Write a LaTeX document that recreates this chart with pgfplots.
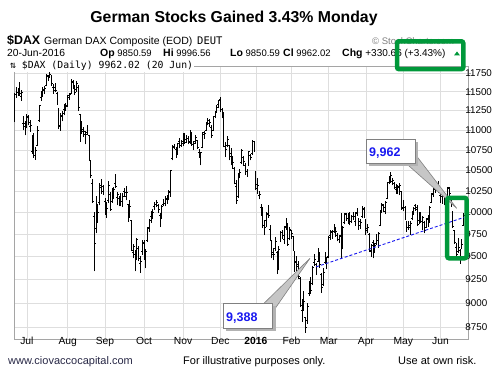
\documentclass[border=0pt]{standalone}
\usepackage{fontspec}
\setmainfont{Liberation Sans}
\newfontfamily\dejamono{DejaVu Sans Mono}
\usepackage{pgfplots}
\pgfplotsset{compat=1.18}
\usepackage{pgfplotstable}
\definecolor{boxgreen}{RGB}{0,152,58}
\definecolor{gridgray}{RGB}{222,222,222}
\definecolor{framegray}{RGB}{165,165,165}
\definecolor{callblue}{RGB}{25,25,240}
\definecolor{footgray}{RGB}{40,40,70}

\pgfplotstableread{
x o h l c
-7 11109 11483 11101 11460
-6 11462 11563 11420 11471
-5 11490 11548 11440 11472
-4 11457 11635 11445 11473
-3 11440 11527 11380 11492
-2 11083 11181 10996 11084
-1 11040 11112 10933 10945
0 11040 11200 11020 11180
1 11160 11190 11060 11099
2 11050 11130 10980 11058
3 10730 10935 10703 10890
4 10950 10962 10650 10676
5 10680 10790 10630 10747
6 10810 11050 10800 10997
7 11120 11330 11100 11315
8 11420 11510 11380 11484
9 11450 11560 11430 11517
10 11530 11580 11470 11539
11 11580 11740 11570 11716
12 11700 11720 11640 11673
13 11720 11802 11690 11735
14 11700 11720 11580 11604
15 11560 11600 11470 11520
16 11560 11610 11490 11512
17 11470 11500 11330 11347
18 11260 11290 11010 11056
19 11050 11220 10990 11174
20 11190 11250 11110 11212
21 11260 11340 11190 11257
22 11290 11350 11250 11309
23 11320 11460 11300 11443
24 11420 11480 11390 11456
25 11480 11670 11470 11636
26 11620 11660 11540 11585
27 11560 11590 11460 11490
28 11530 11640 11500 11604
29 11560 11590 11250 11293
30 11200 11210 10850 10924
31 11040 11110 10950 10985
32 11010 11040 10910 10985
33 10940 10990 10820 10940
34 10970 11060 10940 11015
35 10930 10940 10610 10655
36 10610 10620 10400 10432
37 10340 10390 10110 10124
38 9950 10000 9338 9648
39 9810 10190 9760 10128
40 10060 10100 9880 9997
41 10110 10340 10080 10315
42 10290 10390 10220 10298
43 10240 10320 10200 10259
44 10130 10170 9970 10016
45 10010 10120 9940 10048
46 10140 10370 10110 10318
47 10210 10240 10020 10038
48 10130 10290 10110 10271
49 10250 10300 10160 10271
50 10340 10460 10280 10303
51 10170 10240 10080 10210
52 10160 10190 10070 10123
53 10130 10230 10070 10131
54 10100 10230 10060 10188
55 10240 10280 10180 10227
56 10180 10310 10140 10229
57 10090 10100 9890 9916
58 9960 10140 9940 10066
59 9900 9910 9560 9570
60 9540 9640 9480 9612
61 9520 9570 9340 9427
62 9480 9710 9460 9688
63 9590 9620 9450 9483
64 9420 9510 9325 9450
65 9560 9690 9520 9660
66 9650 9680 9460 9509
67 9480 9580 9370 9553
68 9680 9830 9660 9814
69 9820 9920 9780 9902
70 9950 10020 9880 9970
71 9960 10040 9920 9993
72 10070 10120 10030 10096
73 10090 10140 10060 10119
74 10080 10100 9990 10033
75 9960 9990 9830 9915
76 9940 10080 9920 10064
77 10090 10150 10070 10104
78 10100 10190 10070 10164
79 10150 10200 10100 10147
80 10170 10260 10140 10238
81 10240 10500 10180 10491
82 10640 10810 10620 10795
83 10780 10830 10760 10801
84 10760 10790 10650 10692
85 10700 10840 10690 10831
86 10860 10900 10770 10800
87 10800 10880 10790 10850
88 10830 10960 10800 10951
89 10920 10960 10830 10846
90 10880 10940 10840 10887
91 10890 10920 10820 10845
92 10850 11000 10830 10988
93 10950 10970 10800 10815
94 10800 10860 10750 10833
95 10860 10940 10830 10907
96 10870 10880 10760 10783
97 10720 10760 10650 10708
98 10580 10730 10560 10713
99 10780 10980 10770 10971
100 10940 10990 10890 10960
101 11000 11100 10990 11085
102 11100 11150 11060 11119
103 11080 11140 11040 11092
104 11030 11060 10900 10934
105 11000 11180 10990 11170
106 11180 11250 11150 11226
107 11250 11330 11220 11293
108 11330 11390 11280 11382
109 11390 11430 11230 11261
110 11260 11280 11150 11190
111 11180 11230 10780 10789
112 10790 10850 10660 10752
113 10810 10920 10780 10886
114 10800 10810 10620 10673
115 10700 10770 10560 10593
116 10570 10680 10520 10598
117 10520 10540 10330 10340
118 10300 10380 10100 10140
119 10180 10470 10170 10450
120 10460 10520 10400 10469
121 10600 10760 10580 10739
122 10650 10680 10550 10608
123 10560 10590 10440 10497
124 10480 10510 10420 10489
125 10560 10740 10550 10727
126 10680 10700 10620 10653
127 10700 10880 10690 10860
128 10850 10860 10730 10743
129 10480 10490 10260 10283
130 10330 10400 10220 10310
131 10200 10250 10150 10214
132 10050 10100 9960 9979
133 10040 10060 9820 9849
134 9850 9910 9740 9825
135 9900 10000 9830 9985
136 9980 10090 9940 9960
137 9800 9850 9670 9794
138 9660 9690 9480 9545
139 9520 9600 9460 9521
140 9590 9720 9560 9665
141 9550 9560 9310 9391
142 9400 9620 9350 9574
143 9700 9790 9660 9764
144 9770 9800 9700 9736
145 9690 9840 9640 9822
146 9840 9930 9800 9881
147 9860 9880 9620 9639
148 9700 9830 9680 9798
149 9790 9800 9700 9757
150 9720 9730 9560 9582
151 9530 9560 9330 9434
152 9450 9510 9340 9393
153 9410 9450 9260 9286
154 9260 9280 8960 8979
155 8920 9050 8810 8879
156 8940 9130 8920 9017
157 8850 8860 8699 8752
158 8820 9000 8790 8967
159 9100 9230 9080 9206
160 9220 9280 9100 9135
161 9210 9400 9190 9377
162 9440 9530 9400 9463
163 9410 9430 9300 9388
164 9450 9600 9440 9573
165 9530 9550 9380 9416
166 9310 9320 9110 9167
167 9200 9370 9180 9331
168 9440 9550 9420 9513
169 9440 9500 9360 9495
170 9500 9730 9480 9717
171 9730 9800 9690 9777
172 9770 9800 9700 9751
173 9780 9860 9760 9824
174 9790 9830 9720 9778
175 9740 9760 9670 9693
176 9690 9740 9650 9723
177 9740 9990 9490 9498
178 9590 9840 9580 9831
179 9880 9990 9860 9990
180 9970 9990 9900 9933
181 9930 9990 9870 9983
182 9960 10000 9850 9893
183 9920 9970 9880 9950
184 9950 10000 9910 9948
185 9890 10000 9840 9990
186 10000 10050 9960 10022
187 9920 9930 9800 9851
188 9890 9920 9810 9887
189 9950 10070 9940 10046
190 10030 10060 9940 9966
191 9900 9920 9740 9795
192 9810 9860 9760 9822
193 9750 9760 9550 9563
194 9560 9640 9500 9624
195 9660 9680 9480 9530
196 9560 9650 9540 9622
197 9650 9750 9630 9682
198 9680 9770 9600 9761
199 9850 10030 9840 10026
200 10020 10110 9990 10094
201 10080 10100 10000 10051
202 10010 10130 9980 10120
203 10160 10360 10150 10350
204 10350 10430 10330 10421
205 10420 10474 10350 10435
206 10360 10400 10320 10374
207 10340 10360 10270 10294
208 10270 10330 10220 10260
209 10280 10320 10210 10300
210 10290 10340 10200 10321
211 10240 10250 10030 10039
212 10050 10140 10020 10123
213 10060 10070 9910 9926
214 9880 9900 9780 9828
215 9820 9900 9800 9851
216 9830 9900 9740 9870
217 9930 10010 9910 9980
218 10000 10060 9970 10045
219 10080 10100 10020 10035
220 10050 10080 9840 9862
221 9900 10000 9860 9952
222 9960 10000 9880 9891
223 9870 9960 9800 9943
224 9880 9900 9760 9795
225 9830 9940 9820 9916
226 9930 9970 9830 9842
227 9890 10070 9880 10057
228 10120 10230 10110 10205
229 10220 10290 10180 10272
230 10270 10300 10230 10286
231 10300 10360 10290 10333
232 10320 10370 10230 10263
233 10200 10230 10110 10205
234 10180 10230 10100 10208
235 10210 10240 10080 10103
236 10140 10180 10060 10121
237 10160 10300 10150 10288
238 10280 10300 10190 10217
239 10150 10170 10060 10088
240 10000 10020 9820 9834
241 9790 9800 9640 9657
242 9600 9650 9490 9519
243 9560 9710 9540 9606
244 9570 9580 9420 9550
245 9600 9700 9580 9631
246 9850.59 9996.56 9850.59 9962.02
}\dax

\pgfplotstableread{
x v
163 9388
246 9940
}\trend

\begin{document}
\begin{tikzpicture}[x=1pt,y=1pt]
\useasboundingbox (0,0) rectangle (496,379);
\fill[white] (0,0) rectangle (496,379);

\begin{axis}[
  at={(8,46)}, anchor=south west, scale only axis,
  width=454pt, height=273pt,
  xmin=-7.15, xmax=248.6,
  % log-scaled price axis: values plotted as ln(price)
  ymin=9.06323, ymax=9.37949,
  axis line style={draw=framegray, line width=0.8pt},
  xtick={0,23,44,66,88,109,129,149,170,191,212,233},
  xticklabels={Jul,Aug,Sep,Oct,Nov,Dec,\textbf{2016},Feb,Mar,Apr,May,Jun},
  xtick style={draw=none},
  xticklabel style={font=\fontsize{10.3}{11}\selectfont, anchor=base, inner sep=0pt, yshift=-2.3pt},
  ytick={9.07681,9.10498,9.13238,9.15904,9.18502,9.21034,9.23503,9.25913,9.28266,9.30565,9.32812,9.35010,9.37161},
  yticklabels={8750,9000,9250,9500,9750,10000,10250,10500,10750,11000,11250,11500,11750},
  ytick pos=right, yticklabel pos=right,
  ytick style={draw=framegray, line width=0.6pt},
  major tick length=3pt, tick align=outside,
  yticklabel style={font=\fontsize{9.8}{10}\selectfont, anchor=west, inner sep=0pt, xshift=-6pt},
  grid=major, major grid style={draw=gridgray, line width=0.7pt},
]
% high-low
\addplot[draw=none, mark=none, forget plot,
  error bars/.cd, y dir=plus, y explicit, error mark=none,
  error bar style={draw=black, solid, line width=1pt}]
  table[x=x, y expr=ln(\thisrow{l}), y error expr=ln(\thisrow{h})-ln(\thisrow{l})] {\dax};
% open ticks
\addplot[draw=none, mark=none, forget plot,
  error bars/.cd, x dir=minus, x fixed=0.7, error mark=none,
  error bar style={draw=black, solid, line width=1pt}]
  table[x=x, y expr=ln(\thisrow{o})] {\dax};
% close ticks
\addplot[draw=none, mark=none, forget plot,
  error bars/.cd, x dir=plus, x fixed=0.7, error mark=none,
  error bar style={draw=black, solid, line width=1pt}]
  table[x=x, y expr=ln(\thisrow{c})] {\dax};
% trendline
\addplot[callblue, dash pattern=on 3pt off 2pt, line width=0.9pt, forget plot]
  table[x=x, y expr=ln(\thisrow{v})] {\trend};
\end{axis}

% title and header
\node[anchor=base, font=\fontsize{15.8}{17}\selectfont\bfseries] at (234,356.3) {German Stocks Gained 3.43\% Monday};
\node[anchor=base west, inner sep=0pt, font=\fontsize{12.4}{13}\selectfont\bfseries] at (7,334) {\$DAX};
\node[anchor=base west, inner sep=0pt, font=\fontsize{10.5}{12}\selectfont] at (44,334) {German DAX Composite (EOD)};
\node[anchor=base west, inner sep=0pt, font=\dejamono\fontsize{10.5}{11}\selectfont] at (197,334) {DEUT};
\node[anchor=base west, inner sep=0pt, font=\fontsize{9.5}{11}\selectfont, text=gray] at (372,334) {\textcopyright\ StockCharts.com};
\node[anchor=base west, inner sep=0pt, font=\fontsize{10.3}{12}\selectfont] at (7,322.3) {20-Jun-2016};
\node[anchor=base west, inner sep=0pt, font=\fontsize{9.5}{12}\selectfont] at (100,322.3) {{\fontsize{10.5}{12}\selectfont\bfseries Op} 9850.59};
\node[anchor=base west, inner sep=0pt, font=\fontsize{9.5}{12}\selectfont] at (163,322.3) {{\fontsize{10.5}{12}\selectfont\bfseries Hi} 9996.56};
\node[anchor=base west, inner sep=0pt, font=\fontsize{9.5}{12}\selectfont] at (230,322.3) {{\fontsize{10.5}{12}\selectfont\bfseries Lo} 9850.59};
\node[anchor=base west, inner sep=0pt, font=\fontsize{9.5}{12}\selectfont] at (283,322.3) {{\fontsize{10.5}{12}\selectfont\bfseries Cl} 9962.02};
\node[anchor=base west, inner sep=0pt, font=\fontsize{10}{12}\selectfont] at (342,322.3) {{\fontsize{10.5}{12}\selectfont\bfseries Chg} +330.66 (+3.43\%)};
\fill[boxgreen] (454,323.5) -- (460,323.5) -- (457,327.5) -- cycle;
\node[anchor=base west, inner sep=1pt, fill=white, font=\dejamono\fontsize{9.8}{10}\selectfont] at (9,310) {⇅ \$DAX (Daily) 9962.02 (20 Jun)};

% bottom footer
\node[anchor=base west, inner sep=0pt, font=\fontsize{11}{12}\selectfont, text=footgray] at (8,14) {www.ciovaccocapital.com};
\node[anchor=base west, inner sep=0pt, font=\fontsize{11}{12}\selectfont] at (183,14) {For illustrative purposes only.};
\node[anchor=base west, inner sep=0pt, font=\fontsize{11}{12}\selectfont] at (398,14) {Use at own risk.};

% callout 9,962
\filldraw[draw=gray, fill=gray!45, line width=0.6pt] (406,215.7) -- (456.7,170.7) -- (415,225) -- cycle;
\fill[gray!60] (369,212.7) rectangle (418,236.7);
\filldraw[draw=gray, fill=white, line width=0.8pt] (366,215.7) rectangle (415,239.7);
\node[anchor=base west, inner sep=0pt, font=\fontsize{12.5}{13}\selectfont\bfseries, text=callblue] at (369,222) {9,962};

% callout 9,388
\filldraw[draw=gray, fill=gray!45, line width=0.6pt] (264,75.7) -- (310,120.7) -- (272.7,67) -- cycle;
\fill[gray!60] (226.3,47.7) rectangle (275.7,72.7);
\filldraw[draw=gray, fill=white, line width=0.8pt] (223.3,50.7) rectangle (272.7,75.7);
\node[anchor=base west, inner sep=0pt, font=\fontsize{12.5}{13}\selectfont\bfseries, text=callblue] at (226,57.5) {9,388};

% green highlight boxes
\draw[boxgreen, line width=4.5pt, rounded corners=2pt] (397,309.8) rectangle (463.3,337.7);
\draw[boxgreen, line width=4.5pt, rounded corners=2pt] (447.2,120.7) rectangle (466.5,181.2);
\end{tikzpicture}
\end{document}
